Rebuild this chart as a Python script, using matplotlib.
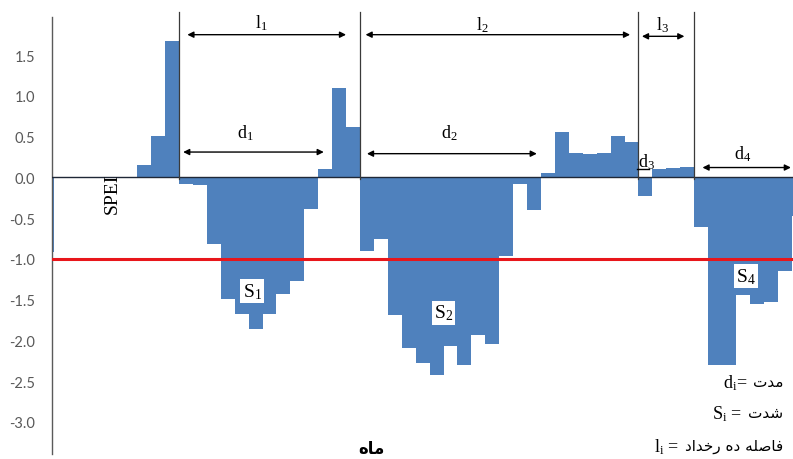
import numpy as np
import matplotlib
matplotlib.use("Agg")
import matplotlib.pyplot as plt

plt.rcParams["mathtext.fontset"] = "custom"
plt.rcParams["mathtext.rm"] = "Liberation Serif"
plt.rcParams["mathtext.it"] = "Liberation Serif:italic"

# monthly SPEI values, one bar per month
spei = [
    -0.92, 0, 0, 0, 0, 0, 0, 0.15, 0.51, 1.67,
    -0.08, -0.09, -0.82, -1.49, -1.68, -1.86, -1.68, -1.43, -1.27, -0.39,
    0.10, 1.10, 0.62,
    -0.91, -0.76, -1.69, -2.09, -2.28, -2.43, -2.07, -2.30, -1.93, -2.05,
    -0.97, -0.08, -0.40, 0.05, 0.56, 0.30, 0.29, 0.30, 0.51, 0.43,
    -0.23, 0.10, 0.11, 0.13,
    -0.61, -2.30, -2.30, -1.45, -1.55, -1.53, -1.15, -0.47,
]
threshold = -1.0
yticks = [1.5, 1.0, 0.5, 0.0, -0.5, -1.0, -1.5, -2.0, -2.5, -3.0]

# start of each drought event (bar boundaries)
event_edges = [9.5, 22.5, 42.5, 46.5]

# interval arrows l_i and duration arrows d_i: (start, end, height)
l_arrows = [(10.1, 21.5, 1.75), (22.9, 41.9, 1.75), (42.75, 45.8, 1.73)]
l_labels = [(15.4, 1.90, "1"), (31.3, 1.88, "2"), (44.2, 1.88, "3")]
d_arrows = [(9.8, 19.9, 0.31), (23.0, 35.2, 0.29), (47.1, 53.45, 0.12)]
d_labels = [(14.3, 0.56, "1"), (28.9, 0.555, "2"), (43.05, 0.20, "3"), (50.0, 0.30, "4")]
d3_span = (42.42, 43.29, 0.10)
s_labels = [(14.75, -1.40, "1"), (28.5, -1.66, "2"), (50.2, -1.21, "4")]

# Persian words, written in display order with Arabic presentation forms
w_month = "\ufee9\ufe8e\ufee3"                       # ماه
w_duration = "\ufe95\ufeaa\ufee3"                    # مدت
w_severity = "\ufe95\ufeaa\ufeb7"                    # شدت
w_interval = ("\ufea9\ufe8d\ufeaa\ufea7\ufead" + " " +
              "\ufee9\ufea9" + " " +
              "\ufeea\ufee0\ufebb\ufe8e\ufed3")       # فاصله ده رخداد

fig = plt.figure(figsize=(7.93, 4.60), dpi=100)
ax = fig.add_axes([52 / 793, 5 / 460, 741 / 793, 437 / 460])

x = np.arange(len(spei))
ax.bar(x, spei, width=1.0, color="#4f81bd", linewidth=0, zorder=2)
ax.axhline(0, color="#1f2837", lw=1.0, zorder=3)
ax.axhline(threshold, color="#e8161b", lw=2.2, zorder=4)

ax.set_xlim(0.38, 53.6)
ax.set_ylim(-3.395, 1.967)
ax.set_xticks([])
ax.set_yticks(yticks)
ax.set_yticklabels(["%.1f" % v for v in yticks], fontfamily="Lato",
                   fontsize=10.5, color="#595959")
ax.tick_params(axis="y", length=0, pad=12)
for s in ["top", "right", "bottom"]:
    ax.spines[s].set_visible(False)
ax.spines["left"].set_color("#5a5a5a")
ax.spines["left"].set_linewidth(1.0)

for e in event_edges:
    ax.plot([e, e], [-0.02, 2.03], color="#3a3a3a", lw=0.9, zorder=5,
            clip_on=False)

arrow = dict(arrowstyle="<|-|>", color="black", lw=1.0, shrinkA=0,
             shrinkB=0, mutation_scale=9)
for x0, x1, y in l_arrows + d_arrows:
    ax.annotate("", xy=(x1, y), xytext=(x0, y), arrowprops=arrow,
                annotation_clip=False, zorder=6)
ax.plot([d3_span[0], d3_span[1]], [d3_span[2], d3_span[2]], color="black",
        lw=1.0, zorder=6)

for lx, ly, k in l_labels:
    ax.text(lx, ly, r"$\mathrm{l}_{%s}$" % k, fontsize=13, ha="center",
            va="center", zorder=7)
for lx, ly, k in d_labels:
    ax.text(lx, ly, r"$\mathrm{d}_{%s}$" % k, fontsize=13, ha="center",
            va="center", zorder=7)
for lx, ly, k in s_labels:
    ax.text(lx, ly, r"$\mathrm{S}_{%s}$" % k, fontsize=14, ha="center",
            va="center", zorder=7,
            bbox=dict(fc="white", ec="none", pad=1.5))

ax.text(4.69, -0.19, "SPEI", fontfamily="Liberation Serif", fontsize=14,
        rotation=90, ha="center", va="center", zorder=7)

fig.text(371 / 793, 1 - 449 / 460, w_month, fontfamily="DejaVu Sans",
         fontweight="bold", fontsize=12, ha="center", va="center")

# key for d, S and l
key = [(383, "d", w_duration, "="), (414, "S", w_severity, " ="),
       (447, "l", w_interval, " =")]
for py, sym, word, eq in key:
    t = fig.text(783 / 793, 1 - py / 460, word, fontfamily="DejaVu Sans",
                 fontsize=11, ha="right", va="center")
    ax.annotate(r"$\mathrm{%s}_\mathrm{i}$" % sym + eq, xy=(0, 0.5),
                xycoords=t, xytext=(-4, 0), textcoords="offset points",
                fontfamily="Liberation Serif", fontsize=13,
                ha="right", va="center", annotation_clip=False)

fig.savefig("out.png", dpi=100)
